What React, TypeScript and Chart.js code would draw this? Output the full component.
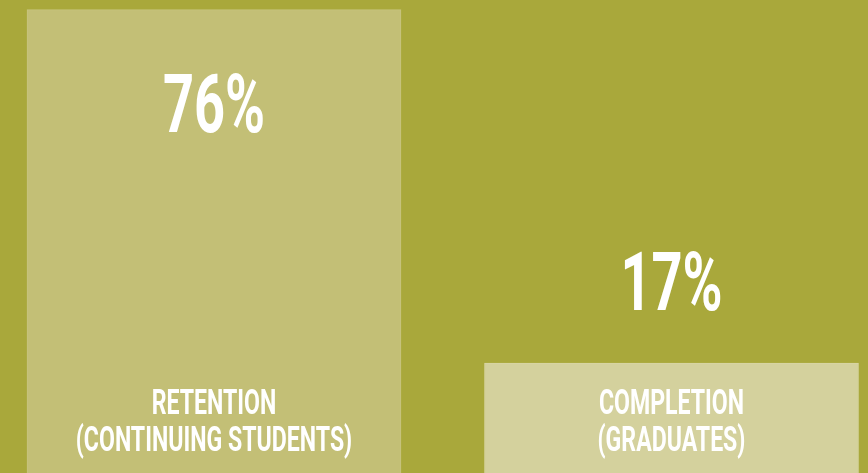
import React, { useEffect, useRef } from "react";
import { Chart, registerables } from "chart.js";

Chart.register(...registerables);

const CATEGORIES: string[][] = [
  ["RETENTION", "(CONTINUING STUDENTS)"],
  ["COMPLETION", "(GRADUATES)"],
];
const VALUES: number[] = [76, 17];
const VALUE_LABELS: string[] = ["76%", "17%"];
const BAR_COLORS: string[] = ["#c3bf76", "#d4d19d"];
const BAR_BORDERS: string[] = ["#c8c47f", "#d8d5a4"];
const BACKGROUND = "#a9a83b";

const Y_MIN = -1.36;
const Y_MAX = 77.6;

const labelPlugin = {
  id: "barLabels",
  afterDatasetsDraw(chart: any) {
    const ctx = chart.ctx as CanvasRenderingContext2D;
    const meta = chart.getDatasetMeta(0);
    const sx = 0.66;
    meta.data.forEach((bar: any, i: number) => {
      const x = bar.x;
      const top = bar.y;
      const bottom = bar.base;
      ctx.save();
      ctx.fillStyle = "#ffffff";
      ctx.textAlign = "center";
      ctx.textBaseline = "alphabetic";
      // value label
      ctx.font = "bold 82px Roboto";
      const capH = 58;
      let baseline: number;
      if (top - 53 - capH > 0) baseline = top - 53;
      else baseline = top + 122;
      ctx.save();
      ctx.translate(x, baseline);
      ctx.scale(sx, 1);
      ctx.fillText(VALUE_LABELS[i], 0, 0);
      ctx.restore();
      // category label
      ctx.font = "bold 35px Roboto";
      const lines = CATEGORIES[i];
      const lineH = 37;
      lines.forEach((line, j) => {
        const bl = bottom - 22 - (lines.length - 1 - j) * lineH;
        ctx.save();
        ctx.translate(x, bl);
        ctx.scale(sx, 1);
        ctx.fillText(line, 0, 0);
        ctx.restore();
      });
      ctx.restore();
    });
  },
};

export default function App() {
  const canvasRef = useRef<HTMLCanvasElement | null>(null);

  useEffect(() => {
    if (!canvasRef.current) return;
    const chart = new Chart(canvasRef.current, {
      type: "bar",
      data: {
        labels: CATEGORIES.map((c) => c.join(" ")),
        datasets: [
          {
            data: VALUES,
            backgroundColor: BAR_COLORS,
            borderColor: BAR_BORDERS,
            borderWidth: 1,
            barThickness: 374,
            base: Y_MIN,
            clip: false as any,
          } as any,
        ],
      },
      options: {
        responsive: false,
        animation: false,
        devicePixelRatio: 1,
        layout: { padding: { left: 214, right: 196.5, top: 0, bottom: 0 } },
        plugins: {
          legend: { display: false },
          tooltip: { enabled: false },
        },
        scales: {
          x: { display: false, offset: false, grid: { display: false } },
          y: { display: false, min: Y_MIN, max: Y_MAX, grid: { display: false } },
        },
      },
      plugins: [labelPlugin],
    });
    return () => chart.destroy();
  }, []);

  return (
    <div
      style={{
        position: "absolute",
        left: 0,
        top: 0,
        width: 868,
        height: 473,
        background: BACKGROUND,
        overflow: "hidden",
      }}
    >
      <canvas ref={canvasRef} width={868} height={473} style={{ display: "block" }} />
    </div>
  );
}
